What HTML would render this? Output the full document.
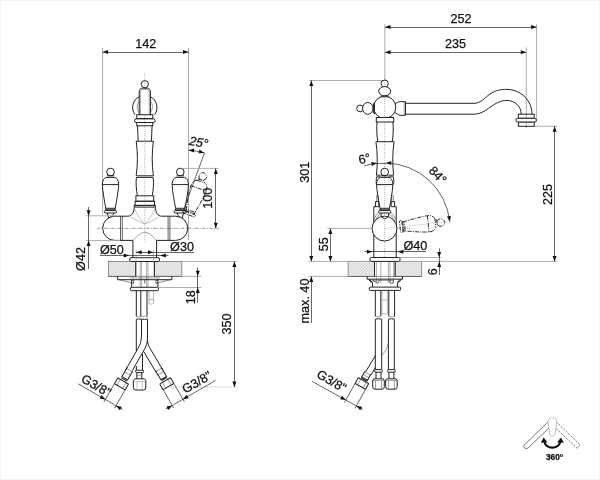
<!DOCTYPE html>
<html><head><meta charset="utf-8"><title>drawing</title>
<style>
html,body{margin:0;padding:0;background:#fff}
body{width:600px;height:480px;overflow:hidden;font-family:"Liberation Sans",sans-serif}
svg{display:block;filter:blur(.3px);font-family:"Liberation Sans",sans-serif}
.o{fill:none;stroke:#222;stroke-width:1}
.ow{fill:#fff;stroke:#222;stroke-width:1}
.t{fill:none;stroke:#444;stroke-width:.5}
.hh{fill:url(#h);stroke:#555;stroke-width:.6}
.k2{fill:none;stroke:#222;stroke-width:.7}
.k{fill:none;stroke:#444;stroke-width:.6}
.t4{fill:none;stroke:#777;stroke-width:.6}
.t3{fill:none;stroke:#888;stroke-width:.5}
.t2{fill:none;stroke:#888;stroke-width:.6}
.d{fill:none;stroke:#333;stroke-width:.75}
.e{fill:none;stroke:#aaa;stroke-width:.95}
.c{fill:none;stroke:#444;stroke-width:.55;stroke-dasharray:3.4 1.3 1 1.3}
.c2{fill:none;stroke:#888;stroke-width:.6;stroke-dasharray:1 1}
.ph{fill:none;stroke:#222;stroke-width:.9;stroke-dasharray:4 1.2 1 1.2}
.a{fill:#111;stroke:none}
.i1{fill:#fff;stroke:#555;stroke-width:.8}
.i2{fill:none;stroke:#555;stroke-width:.8;stroke-dasharray:2.2 1.2}
.i3{fill:#fff;stroke:#999;stroke-width:.6}
.i4{fill:none;stroke:#111;stroke-width:2.3}
text{fill:#111;stroke:#111;stroke-width:.25}
</style></head><body>
<svg width="600" height="480" viewBox="0 0 600 480">
<defs><pattern id="h" width="2.2" height="2.2" patternUnits="userSpaceOnUse" patternTransform="rotate(-45)"><rect width="2.2" height="2.2" fill="#ececec"/><line x1="0" y1="0" x2="2.2" y2="0" stroke="#a8a8a8" stroke-width=".6"/></pattern></defs>
<rect x="0.5" y="0.5" width="599" height="479" fill="#fff" stroke="#f3f3f3"/>
<rect x="108.3" y="261.4" width="27.5" height="14.9" class="hh"/>
<rect x="154.2" y="261.4" width="27.7" height="14.9" class="hh"/>
<path class="k" d="M108.30 276.30L181.90 276.30"/>
<path class="o" d="M135.80 261.40L135.80 276.30"/>
<path class="o" d="M154.40 261.40L154.40 276.30"/>
<path class="t4" d="M140.20 261.40L140.20 287.00"/>
<path class="t4" d="M141.60 261.40L141.60 287.00"/>
<path class="t4" d="M146.60 261.40L146.60 287.00"/>
<path class="t4" d="M148.00 261.40L148.00 287.00"/>
<path class="e" d="M102.60 48.00L102.60 214.00"/>
<path class="e" d="M188.50 48.00L188.50 240.00"/>
<path class="d" d="M102.60 52.50L188.50 52.50"/>
<path class="a" d="M102.60 52.00L108.10 50.00L108.10 54.00Z"/>
<path class="a" d="M188.50 52.00L183.00 54.00L183.00 50.00Z"/>
<text x="145.80" y="47.80" font-size="12.6" text-anchor="middle">142</text>
<path class="c2" d="M144.80 73.00L144.80 243.00"/>
<path class="c" d="M97.00 228.30L219.00 228.30"/>
<circle class="o" cx="144.80" cy="84.20" r="3.60"/>
<path class="ow" d="M139.20000000000002 115V92C139.20000000000002 89.4 140.60000000000002 88.2 142.4 88.2H147.20000000000002C149.0 88.2 150.4 89.4 150.4 92V115"/>
<path class="t" d="M140.4 115V92.6C140.4 90.4 141.4 89.6 142.8 89.6H146.8C148.20000000000002 89.6 149.20000000000002 90.4 149.20000000000002 92.6V115"/>
<path class="o" d="M139.20000000000002 96.7A12.2 12.2 0 0 0 134.95000000000002 114.7M150.4 96.7A12.2 12.2 0 0 1 154.65 114.7"/>
<path class="t" d="M139.20000000000002 101A9 9 0 0 0 139.20000000000002 112.5M150.4 101A9 9 0 0 1 150.4 112.5"/>
<rect class="o" x="136.80" y="114.70" width="16.00" height="4.00" rx="0"/>
<rect class="o" x="134.50" y="118.70" width="20.60" height="3.80" rx="1.9"/>
<rect class="o" x="136.80" y="122.50" width="16.00" height="3.30" rx="0"/>
<path class="o" d="M137.5 125.8C137.5 131 138.20000000000002 136 138.20000000000002 141.2M152.10000000000002 125.8C152.10000000000002 131 151.4 136 151.4 141.2"/>
<path class="o" d="M136.20 141.20L153.40 141.20"/>
<path class="o" d="M136.20000000000002 141.2C137.8 152 137.8 165 136.20000000000002 175.8M153.4 141.2C151.8 152 151.8 165 153.4 175.8"/>
<path class="o" d="M136.20 175.80L153.40 175.80"/>
<path class="o" d="M136.40 177.40L153.20 177.40"/>
<path class="o" d="M136.4 177.4C135.60000000000002 184 136.4 190 137.4 195.8M153.20000000000002 177.4C154.0 184 153.20000000000002 190 152.20000000000002 195.8"/>
<rect class="o" x="135.90" y="195.80" width="17.80" height="5.45" rx="0"/>
<rect class="o" x="135.10" y="201.25" width="19.40" height="4.15" rx="0"/>
<rect class="o" x="134.30" y="205.40" width="21.00" height="1.70" rx="0"/>
<path class="o" d="M134.3 207.1C134.0 212 132.3 216.2 127.80000000000001 216.2H122.2"/>
<path class="o" d="M155.3 207.1C155.60000000000002 212 157.3 216.2 161.8 216.2H168.2"/>
<path class="o" d="M122.2 216.2H114.8A12.1 12.1 0 0 0 114.8 240.4H122.2"/>
<path class="o" d="M168.2 216.2H175.6A12.1 12.1 0 0 1 175.6 240.4H168.2"/>
<path class="k2" d="M120.50 216.20L120.50 240.40"/>
<path class="k2" d="M122.30 216.20L122.30 240.40"/>
<path class="k2" d="M168.10 216.20L168.10 240.40"/>
<path class="k2" d="M169.90 216.20L169.90 240.40"/>
<path class="o" d="M122.2 240.4H132.9V257.6"/>
<path class="o" d="M168.2 240.4H156.60000000000002V257.6"/>
<path class="t3" d="M134.3 207.1C135.3 212 139.8 219 144.8 224.2C149.8 219 154.3 212 155.3 207.1"/>
<path class="t3" d="M130.8 217.5L144.8 224.2L158.8 217.5"/>
<path class="t" d="M132.9 240.4C136.8 236.5 140.8 232.3 144.8 232.3C148.8 232.3 152.8 236.5 156.60000000000002 240.4"/>
<rect class="ow" x="129.80" y="257.70" width="29.60" height="3.80" rx="1.2"/>
<circle class="o" cx="110.50" cy="172.00" r="3.80"/>
<path class="o" d="M106.80 175.80L114.20 175.80"/>
<path class="o" d="M106.20 177.40L114.80 177.40"/>
<path class="o" d="M106.2 177.4C104.0 178.2 102.3 180.5 102.3 184.6C102.8 192.3 104.3 200.4 105.8 208.3H115.2C116.7 200.4 118.2 192.3 118.7 184.6C118.7 180.5 117.0 178.2 114.8 177.4"/>
<path class="o" d="M102.30 184.60L118.70 184.60"/>
<path class="o" d="M105.80 209.80L115.20 209.80"/>
<path class="o" d="M105.8 208.3V210.6M115.2 208.3V210.6"/>
<rect class="o" x="104.40" y="210.60" width="12.20" height="2.40" rx="1"/>
<circle class="o" cx="180.30" cy="172.00" r="3.80"/>
<path class="o" d="M176.60 175.80L184.00 175.80"/>
<path class="o" d="M176.00 177.40L184.60 177.40"/>
<path class="o" d="M176.0 177.4C173.8 178.2 172.10000000000002 180.5 172.10000000000002 184.6C172.60000000000002 192.3 174.10000000000002 200.4 175.60000000000002 208.3H185.0C186.5 200.4 188.0 192.3 188.5 184.6C188.5 180.5 186.8 178.2 184.60000000000002 177.4"/>
<path class="o" d="M172.10 184.60L188.50 184.60"/>
<path class="o" d="M175.60 209.80L185.00 209.80"/>
<path class="o" d="M175.60000000000002 208.3V210.6M185.0 208.3V210.6"/>
<rect class="o" x="174.20" y="210.60" width="12.20" height="2.40" rx="1"/>
<path class="o" d="M107.3 213L108.6 218M113.7 213C113.5 215 112 216.6 110.3 217.2"/>
<path class="o" d="M183.5 213L182.2 218M177.1 213C177.3 215 178.8 216.6 180.5 217.2"/>
<g transform="translate(9.2 2.2) rotate(19.5 180.3 211.8)">
<circle class="ph" cx="180.30" cy="172.00" r="3.80"/>
<path class="ph" d="M176.60 175.80L184.00 175.80"/>
<path class="ph" d="M176.00 177.40L184.60 177.40"/>
<path class="ph" d="M176.0 177.4C173.8 178.2 172.10000000000002 180.5 172.10000000000002 184.6C172.60000000000002 192.3 174.10000000000002 200.4 175.60000000000002 208.3H185.0C186.5 200.4 188.0 192.3 188.5 184.6C188.5 180.5 186.8 178.2 184.60000000000002 177.4"/>
<path class="ph" d="M172.10 184.60L188.50 184.60"/>
<path class="ph" d="M175.60 209.80L185.00 209.80"/>
<path class="ph" d="M175.60000000000002 208.3V210.6M185.0 208.3V210.6"/>
<rect class="ph" x="174.20" y="210.60" width="12.20" height="2.40" rx="1"/>
</g>
<path class="o" d="M117.6 276.3V279.7H171.9V276.3"/>
<path class="t" d="M129.8 277.9H160.2"/>
<path class="k" d="M118.8 279.7L131.6 282.8M170.7 279.7L157.9 282.8"/>
<path class="o" d="M131.6 279.7V287.3M157.9 279.7V287.3"/>
<path class="k2" d="M131.6 280L133.8 280.4L133.4 283.6L131.6 282.8M157.9 280L155.7 280.4L156.1 283.6L157.9 282.8M144.7 280V283.4"/>
<rect class="ow" x="130.40" y="287.30" width="28.00" height="3.40" rx="0.8"/>
<path class="o" d="M136.3 290.5V316.5M140.8 290.5V316.5M147 290.5V316.5"/>
<path class="t" d="M136.3 316.5C139 317.3 144 315.8 147 316.5"/>
<path class="o" d="M136.3 319.3C139 318.3 144 320 147.6 319"/>
<path class="t2" d="M149 290.5V303.5Q151.3 305 153.6 303.5V290.5"/>
<path class="t2" d="M149.00 299.50L153.60 299.50"/>
<path class="o" d="M136.3 319.3V351M136.3 366V370.6M142.5 354V370.6"/>
<path class="o" d="M141.5 319.3V335C141.5 341 140.2 344.5 138 348.5L125.6 370"/>
<path class="o" d="M147.5 319.3V338C147.5 343 146 346.5 144 350L132.4 370.4"/>
<path class="o" d="M147.5 340C147.6 344 149 347 151 350L163 370.2"/>
<path class="o" d="M143.6 351.4L156.2 372.4"/>
<g transform="translate(129.5 370) rotate(30)">
<path class="t" d="M-3.3 0H3.3M-3.3 4H3.3"/>
<path class="o" d="M-3.3 -1V10M3.3 -1V10"/>
<path class="o" d="M-3.3 9.6H3.3M-3 10.8H3"/>
<path class="t" d="M-2.8 10.8V12.7M2.8 10.8V12.7"/>
<rect class="ow" x="-6.20" y="12.70" width="12.40" height="6.70" rx="0.6"/>
<path class="t" d="M-3.2 12.7V19.4M3.2 12.7V19.4"/>
</g>
<g transform="translate(158.8 369.8) rotate(-30)">
<path class="t" d="M-3.3 0H3.3M-3.3 4H3.3"/>
<path class="o" d="M-3.3 -1V10M3.3 -1V10"/>
<path class="o" d="M-3.3 9.6H3.3M-3 10.8H3"/>
<path class="t" d="M-2.8 10.8V12.7M2.8 10.8V12.7"/>
<rect class="ow" x="-6.20" y="12.70" width="12.40" height="6.70" rx="0.6"/>
<path class="t" d="M-3.2 12.7V19.4M3.2 12.7V19.4"/>
</g>
<rect class="ow" x="135.70" y="370.20" width="7.90" height="2.40" rx="0.8"/>
<path class="o" d="M136.8 372.6V378.8M141.8 372.6V378.8"/>
<path class="t" d="M136.80 375.20L141.80 375.20"/>
<path class="ow" d="M134.8 378.8H144.4L145.8 380.4V387.6Q145.8 390 143.6 390H135.6Q133.4 390 133.4 387.6V380.4Z"/>
<path class="t3" d="M133.6 381.6H145.6M137 381.6V389.8M142.2 381.6V389.8"/>
<path class="e" d="M86.50 215.80L116.00 215.80"/>
<path class="e" d="M86.50 240.60L120.00 240.60"/>
<path class="d" d="M88.50 207.00L88.50 269.00"/>
<path class="a" d="M88.60 215.80L86.60 210.30L90.60 210.30Z"/>
<path class="a" d="M88.60 240.60L90.60 246.10L86.60 246.10Z"/>
<text x="84.60" y="259.00" font-size="12.6" text-anchor="middle" transform="rotate(-90 84.60 259.00)">Ø42</text>
<path class="d" d="M100.00 255.50L168.40 255.50"/>
<path class="a" d="M129.20 255.40L123.70 257.40L123.70 253.40Z"/>
<path class="a" d="M160.30 255.40L165.80 253.40L165.80 257.40Z"/>
<text x="111.80" y="254.00" font-size="12.6" text-anchor="middle">Ø50</text>
<path class="t3" d="M136.20 249.50L136.20 262.50"/>
<path class="t3" d="M153.40 249.50L153.40 262.50"/>
<path class="d" d="M136.20 252.50L194.00 252.50"/>
<path class="a" d="M136.20 252.30L141.70 250.30L141.70 254.30Z"/>
<path class="a" d="M153.40 252.30L147.90 254.30L147.90 250.30Z"/>
<text x="182.00" y="250.80" font-size="12.6" text-anchor="middle">Ø30</text>
<path class="d" d="M204.60 152.60L182.60 212.50"/>
<path class="d" d="M188.6 150.3Q196.5 150.6 204.3 152.9"/>
<path class="a" d="M188.60 150.30L194.17 148.49L194.03 152.49Z"/>
<path class="a" d="M204.30 152.90L198.46 153.31L199.56 149.46Z"/>
<text x="197.80" y="146.50" font-size="12.6" text-anchor="middle" transform="rotate(11 197.80 146.50)" font-style="italic">25°</text>
<path class="e" d="M182.50 168.40L218.50 168.40"/>
<path class="d" d="M215.50 168.40L215.50 228.30"/>
<path class="a" d="M215.80 168.40L217.80 173.90L213.80 173.90Z"/>
<path class="a" d="M215.80 228.30L213.80 222.80L217.80 222.80Z"/>
<text x="211.60" y="198.30" font-size="12.6" text-anchor="middle" transform="rotate(-90 211.60 198.30)">100</text>
<path class="e" d="M181.90 261.40L236.80 261.40"/>
<path class="e" d="M181.90 276.30L201.50 276.30"/>
<path class="e" d="M158.90 287.50L201.50 287.50"/>
<path class="d" d="M197.50 267.60L197.50 302.40"/>
<path class="a" d="M197.80 276.30L195.80 270.80L199.80 270.80Z"/>
<path class="a" d="M197.80 287.50L199.80 293.00L195.80 293.00Z"/>
<text x="194.60" y="297.30" font-size="12.6" text-anchor="middle" transform="rotate(-90 194.60 297.30)">18</text>
<path class="d" d="M234.50 261.40L234.50 387.00"/>
<path class="a" d="M234.40 261.40L236.40 266.90L232.40 266.90Z"/>
<path class="a" d="M234.40 387.00L232.40 381.50L236.40 381.50Z"/>
<path class="c2" d="M170.80 387.00L236.80 387.00"/>
<text x="230.60" y="324.00" font-size="12.6" text-anchor="middle" transform="rotate(-90 230.60 324.00)">350</text>
<path class="d" d="M114.43 383.70L103.88 401.97"/>
<path class="d" d="M125.17 389.90L114.62 408.17"/>
<path class="d" d="M78.22 383.81L122.65 409.46"/>
<path class="a" d="M105.33 399.46L99.57 398.44L101.57 394.98Z"/>
<path class="a" d="M116.07 405.66L121.83 406.68L119.83 410.14Z"/>
<text x="94.04" y="389.21" font-size="12.6" text-anchor="middle" transform="rotate(30 94.04 389.21)">G3/8"</text>
<path class="d" d="M163.13 389.70L173.68 407.97"/>
<path class="d" d="M173.87 383.50L184.42 401.77"/>
<path class="d" d="M215.71 380.36L165.65 409.26"/>
<path class="a" d="M182.97 399.26L186.73 394.78L188.73 398.24Z"/>
<path class="a" d="M172.23 405.46L168.47 409.94L166.47 406.48Z"/>
<text x="198.96" y="385.91" font-size="12.6" text-anchor="middle" transform="rotate(-30 198.96 385.91)">G3/8"</text>
<rect x="348.1" y="261.4" width="26.4" height="15" class="hh"/>
<rect x="395.1" y="261.4" width="26.7" height="15" class="hh"/>
<path class="k" d="M348.10 276.40L421.80 276.40"/>
<path class="o" d="M374.50 261.40L374.50 276.40"/>
<path class="o" d="M395.10 261.40L395.10 276.40"/>
<path class="t4" d="M376.40 261.40L376.40 283.00"/>
<path class="t4" d="M380.80 261.40L380.80 283.00"/>
<path class="t4" d="M388.40 261.40L388.40 283.00"/>
<path class="t4" d="M390.00 261.40L390.00 283.00"/>
<path class="t4" d="M393.60 261.40L393.60 283.00"/>
<path class="e" d="M384.80 24.00L384.80 80.00"/>
<path class="e" d="M526.30 47.40L526.30 128.00"/>
<path class="e" d="M536.60 24.00L536.60 122.00"/>
<path class="d" d="M385.00 27.50L536.60 27.50"/>
<path class="a" d="M385.00 27.10L390.50 25.10L390.50 29.10Z"/>
<path class="a" d="M536.60 27.10L531.10 29.10L531.10 25.10Z"/>
<text x="461.00" y="23.00" font-size="12.6" text-anchor="middle">252</text>
<path class="d" d="M385.00 52.50L526.30 52.50"/>
<path class="a" d="M385.00 52.20L390.50 50.20L390.50 54.20Z"/>
<path class="a" d="M526.30 52.20L520.80 54.20L520.80 50.20Z"/>
<text x="455.60" y="48.00" font-size="12.6" text-anchor="middle">235</text>
<path class="e" d="M309.00 80.50L385.00 80.50"/>
<path class="d" d="M311.50 80.50L311.50 261.40"/>
<path class="a" d="M311.30 80.50L313.30 86.00L309.30 86.00Z"/>
<path class="a" d="M311.30 261.40L309.30 255.90L313.30 255.90Z"/>
<text x="309.20" y="172.20" font-size="12.6" text-anchor="middle" transform="rotate(-90 309.20 172.20)">301</text>
<path class="e" d="M308.50 261.40L557.00 261.40"/>
<path class="e" d="M308.50 276.40L348.10 276.40"/>
<path class="d" d="M311.50 276.40L311.50 323.00"/>
<path class="a" d="M311.30 276.40L313.30 281.90L309.30 281.90Z"/>
<text x="309.40" y="301.00" font-size="12.6" text-anchor="middle" transform="rotate(-90 309.40 301.00)">max. 40</text>
<path class="e" d="M327.30 228.40L372.00 228.40"/>
<path class="d" d="M330.50 228.40L330.50 261.40"/>
<path class="a" d="M330.40 228.40L332.40 233.90L328.40 233.90Z"/>
<path class="a" d="M330.40 261.40L328.40 255.90L332.40 255.90Z"/>
<text x="328.20" y="244.30" font-size="12.6" text-anchor="middle" transform="rotate(-90 328.20 244.30)">55</text>
<path class="e" d="M534.20 126.30L557.00 126.30"/>
<path class="d" d="M554.50 126.30L554.50 261.40"/>
<path class="a" d="M554.60 126.30L556.60 131.80L552.60 131.80Z"/>
<path class="a" d="M554.60 261.40L552.60 255.90L556.60 255.90Z"/>
<text x="552.00" y="194.40" font-size="12.6" text-anchor="middle" transform="rotate(-90 552.00 194.40)">225</text>
<path class="e" d="M400.00 257.50L441.00 257.50"/>
<path class="d" d="M439.50 248.30L439.50 275.00"/>
<path class="a" d="M439.20 257.40L437.20 251.90L441.20 251.90Z"/>
<path class="a" d="M439.20 261.60L441.20 267.10L437.20 267.10Z"/>
<text x="437.40" y="271.70" font-size="12.6" text-anchor="middle" transform="rotate(-90 437.40 271.70)">6</text>
<path class="d" d="M364.70 251.50L426.00 251.50"/>
<path class="a" d="M372.40 251.70L366.90 253.70L366.90 249.70Z"/>
<path class="a" d="M397.80 251.70L403.30 249.70L403.30 253.70Z"/>
<text x="415.40" y="250.00" font-size="12.6" text-anchor="middle">Ø40</text>
<path class="c2" d="M384.70 80.00L384.70 262.00"/>
<path class="c" d="M374.00 228.40L410.00 228.40"/>
<circle class="o" cx="384.70" cy="83.60" r="3.60"/>
<ellipse class="ow" cx="384.70" cy="91.20" rx="6.00" ry="4.60"/>
<circle class="o" cx="360.10" cy="108.40" r="3.40"/>
<ellipse class="ow" cx="367.80" cy="108.40" rx="5.20" ry="5.90"/>
<path class="ow" d="M394.5 103.6C397 103.4 398 101.7 400 101.7H405.5V115.3H400C398 115.3 397 113.4 394.5 112.4"/>
<path class="t" d="M404.20 101.70L404.20 115.30"/>
<circle class="ow" cx="384.70" cy="107.30" r="11.10"/>
<path class="t" d="M380.09999999999997 95.9H389.3M379.3 97.1H390.09999999999997"/>
<path class="o" d="M373.3 103.3V113.4M374.5 102.6V114.1"/>
<path class="c2" d="M384.70 97.00L384.70 117.00"/>
<path class="o" d="M405.5 103.3H474C481 103.3 485 97.5 490 94C496 90 501 89.4 506.7 89.4C520.4 89.4 532 100.2 532 114.2"/>
<path class="o" d="M405.5 114.2H474C481 114.2 486 110 490 107.3C496 103 501 100.4 506.7 100.4C514.5 100.4 521.2 106 521.2 114.2"/>
<rect class="o" x="518.30" y="114.20" width="15.90" height="4.10" rx="0"/>
<rect class="o" x="518.30" y="122.00" width="15.90" height="4.30" rx="0"/>
<rect class="ow" x="515.80" y="118.30" width="20.60" height="3.70" rx="1.8"/>
<rect class="ow" x="376.30" y="117.50" width="17.40" height="4.50" rx="0"/>
<path class="o" d="M377.1 122C376.4 128 376.8 136 377.8 141.7M392.9 122C393.6 128 393.2 136 392.2 141.7"/>
<path class="o" d="M375.90 141.70L394.10 141.70"/>
<path class="o" d="M375.9 141.7C377.6 152 377.6 165 376.4 175.2M394.1 141.7C392.4 152 392.4 165 393.6 175.2"/>
<path class="o" d="M376.40 175.20L380.60 175.20"/>
<path class="o" d="M388.80 175.20L393.60 175.20"/>
<path class="o" d="M376.60 176.80L380.60 176.80"/>
<path class="o" d="M388.80 176.80L393.40 176.80"/>
<path class="o" d="M376.6 176.8C376 182 376 184 376.8 184.5M393.4 176.8C394 182 394 184 393.2 184.5"/>
<path class="k" d="M376.7 195V201.7M378.3 195V201.7M391.7 195V201.7M393.3 195V201.7"/>
<path class="o" d="M375.4 206.7V201.7H378.8V206.7M391.2 206.7V201.7H394.6V206.7"/>
<path class="o" d="M378.8 206.7H373.8V257.6M391.2 206.7H396.2V257.6"/>
<path class="k" d="M378.7 212.2Q375.4 215.5 373.8 220M380.4 213.6Q376.8 216.5 375.4 221M390.7 212.2Q394 215.5 396.2 220M389 213.6Q392.6 216.5 394.6 221"/>
<circle class="ow" cx="384.50" cy="228.60" r="12.40"/>
<path class="c2" d="M384.70 216.00L384.70 243.00"/>
<circle class="o" cx="384.70" cy="172.00" r="3.80"/>
<path class="o" d="M381.00 175.80L388.40 175.80"/>
<path class="o" d="M380.40 177.40L389.00 177.40"/>
<path class="o" d="M380.4 177.4C378.2 178.2 376.5 180.5 376.5 184.6C377.0 192.3 378.5 200.4 380.0 208.3H389.4C390.9 200.4 392.4 192.3 392.9 184.6C392.9 180.5 391.2 178.2 389.0 177.4"/>
<path class="o" d="M376.50 184.60L392.90 184.60"/>
<path class="o" d="M380.00 209.80L389.40 209.80"/>
<path class="o" d="M380.0 208.3V210.6M389.4 208.3V210.6"/>
<rect class="o" x="378.60" y="210.60" width="12.20" height="2.40" rx="1"/>
<path class="o" d="M381.09999999999997 213V216Q384.7 221.6 388.59999999999997 216V213"/>
<g transform="rotate(84 384.7 228.4)">
<circle class="ph" cx="384.70" cy="172.00" r="3.80"/>
<path class="ph" d="M381.00 175.80L388.40 175.80"/>
<path class="ph" d="M380.40 177.40L389.00 177.40"/>
<path class="ph" d="M380.4 177.4C378.2 178.2 376.5 180.5 376.5 184.6C377.0 192.3 378.5 200.4 380.0 208.3H389.4C390.9 200.4 392.4 192.3 392.9 184.6C392.9 180.5 391.2 178.2 389.0 177.4"/>
<path class="ph" d="M376.50 184.60L392.90 184.60"/>
<path class="ph" d="M380.00 209.80L389.40 209.80"/>
<path class="ph" d="M380.0 208.3V210.6M389.4 208.3V210.6"/>
<rect class="ph" x="378.60" y="210.60" width="12.20" height="2.40" rx="1"/>
</g>
<path class="c2" d="M384.70 228.40L452.00 221.40"/>
<path class="d" d="M364.20 165.90L372.00 163.90"/>
<path class="d" d="M376.00 163.50L386.00 163.50"/>
<path class="a" d="M377.00 163.00L371.93 165.92L371.24 161.99Z"/>
<path class="a" d="M385.80 163.00L391.33 161.10L391.26 165.10Z"/>
<path class="d" d="M385.84 163.01A65.4 65.4 0 0 1 449.74 221.56"/>
<path class="a" d="M449.74 221.56L447.00 216.40L450.96 215.84Z"/>
<text x="365.30" y="163.00" font-size="12.6" text-anchor="middle" transform="rotate(-12 365.30 163.00)">6°</text>
<text x="434.60" y="178.00" font-size="12.6" text-anchor="middle" transform="rotate(46 434.60 178.00)">84°</text>
<rect class="ow" x="370.00" y="257.50" width="30.00" height="3.90" rx="1.2"/>
<path class="o" d="M367.2 276.4V279.2H402.4V276.4"/>
<path class="o" d="M368.3 279.4L372.5 283.3V287.1M401.5 279.4L397.4 283.3V287.1"/>
<path class="o" d="M369.6 279.6L372.9 282.6M400.2 279.6L397 282.6"/>
<path class="t" d="M372.5 280.5H393.6"/>
<path class="k2" d="M372.6 280.5L377.9 283.3L379.4 280.5M389.9 280.5L390.4 283.2Q391.6 284 392.8 283.2L393.4 280.5"/>
<rect class="ow" x="369.30" y="287.10" width="31.40" height="3.30" rx="0.9"/>
<path class="o" d="M375.3 290.3V316.3M380.8 290.3V316.3M388.8 290.3V316.3M394.6 290.3V316.3"/>
<path class="t2" d="M382 290.3V314M387.4 290.3V314M382 300H387.4M382 314H387.4"/>
<path class="t" d="M375.3 316.3Q378 317.3 380.8 316.3M388.8 316.3Q391.7 317.3 394.6 316.3"/>
<path class="o" d="M375.3 319.2Q378 318.2 381.7 319.2M388.4 319.2Q391.7 318.2 394.4 319.2"/>
<path class="o" d="M375.3 319.2V369.2M381.7 319.2V369.2M388.4 319.2V370M394.3 319.2V370"/>
<path class="t" d="M388.2 343C387.5 349 384.5 352 381.7 355.5"/>
<path class="o" d="M375.3 355.8L365.6 371.8M375.3 367.6L371.2 374.6"/>
<g transform="translate(367.4 373.6) rotate(29)">
<path class="t" d="M-3.3 0H3.3M-3.3 2.8H3.3"/>
<path class="o" d="M-3.3 -1V6.6M3.3 -1V6.6"/>
<path class="o" d="M-3.3 5.6H3.3M-3 6.8H3"/>
<path class="t" d="M-2.8 6.8V8M2.8 6.8V8"/>
<rect class="ow" x="-6.00" y="8.00" width="12.00" height="6.60" rx="0.6"/>
<path class="t" d="M-3.2 8V14.6M3.2 8V14.6"/>
</g>
<rect class="ow" x="374.70" y="369.60" width="7.60" height="2.60" rx="0.8"/>
<path class="o" d="M376.0 372.2V378.6M381.0 372.2V378.6"/>
<path class="ow" d="M373.9 378.8H383.1L384.3 380.4V386.6Q384.3 389.2 382.1 389.2H374.9Q372.7 389.2 372.7 386.6V380.4Z"/>
<path class="t" d="M375.5 380.4V389.2M381.5 380.4V389.2M372.7 380.4H384.3"/>
<rect class="ow" x="387.60" y="369.60" width="7.60" height="2.60" rx="0.8"/>
<path class="o" d="M388.9 372.2V378.6M393.9 372.2V378.6"/>
<path class="ow" d="M386.79999999999995 378.8H396.0L397.2 380.4V386.6Q397.2 389.2 395.0 389.2H387.79999999999995Q385.59999999999997 389.2 385.59999999999997 386.6V380.4Z"/>
<path class="t" d="M388.4 380.4V389.2M394.4 380.4V389.2M385.59999999999997 380.4H397.2"/>
<path class="d" d="M355.07 383.46L344.51 402.53"/>
<path class="d" d="M365.57 389.28L355.00 408.35"/>
<path class="d" d="M312.19 381.41L363.01 409.58"/>
<path class="a" d="M345.86 400.08L340.08 399.16L342.02 395.66Z"/>
<path class="a" d="M356.36 405.90L362.14 406.81L360.20 410.31Z"/>
<text x="329.44" y="384.71" font-size="12.6" text-anchor="middle" transform="rotate(30 329.44 384.71)">G3/8"</text>
<path class="i1" d="M548.6 421.6L524.6 444.6A2.3 2.3 0 0 0 528 448L549.4 427.6Z"/>
<path class="i2" d="M556 421.6L580.2 444.8L577 448.2L555.2 427.6"/>
<path class="i3" d="M552.3 417.6C555.2 417.6 556.8 419.6 556.6 422.5L555 434C554.8 437 549.8 437 549.6 434L548 422.5C547.8 419.6 549.4 417.6 552.3 417.6Z"/>
<path class="i4" d="M544.4 441.5C545.7 449.8 558.9 449.8 560.2 441.5"/>
<path class="a" d="M543.6 437.4L540.8 442.8L547.4 442.2Z"/><path class="a" d="M561 437.4L563.8 442.8L557.2 442.2Z"/>
<text x="554.60" y="460.00" font-size="8.3" text-anchor="middle" font-weight="bold">360°</text>
</svg></body></html>
